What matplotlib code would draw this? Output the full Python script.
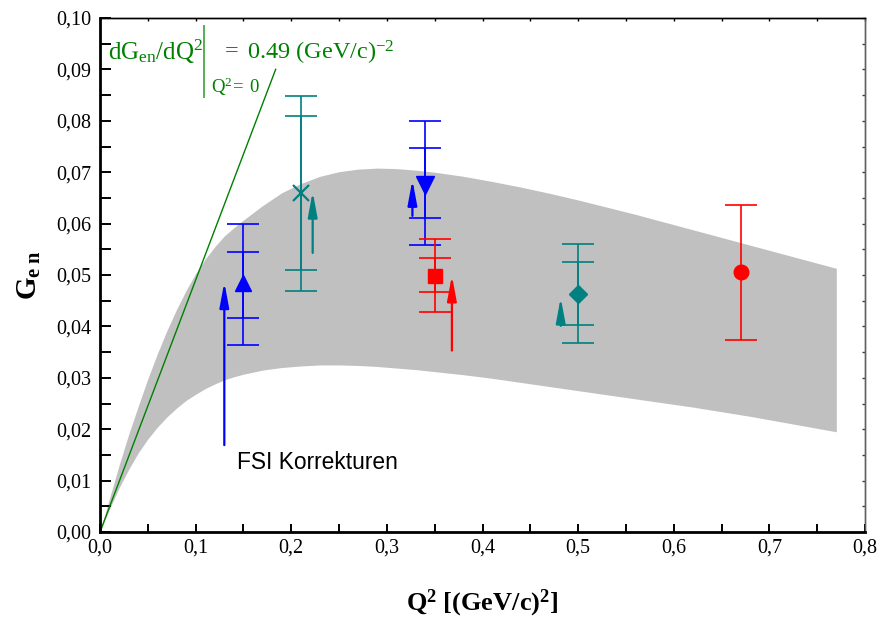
import matplotlib
matplotlib.use("Agg")
import matplotlib.pyplot as plt
import matplotlib.ticker as ticker

plt.rcParams['font.family'] = 'Liberation Serif'
plt.rcParams['mathtext.fontset'] = 'custom'
plt.rcParams['mathtext.rm'] = 'Liberation Serif'
plt.rcParams['mathtext.it'] = 'Liberation Serif:italic'
plt.rcParams['mathtext.bf'] = 'Liberation Serif:bold'

# theory band (upper / lower edge)
band_q = [0, 0.01, 0.02, 0.03, 0.04, 0.05, 0.06, 0.07, 0.08, 0.09, 0.10,
          0.11, 0.12, 0.13, 0.14, 0.15, 0.17, 0.19, 0.21, 0.23, 0.25, 0.27,
          0.29, 0.31, 0.33, 0.35, 0.38, 0.41, 0.44, 0.47, 0.50, 0.53, 0.56,
          0.59, 0.62, 0.65, 0.68, 0.71, 0.74, 0.77]
band_hi = [0, 0.0066, 0.0130, 0.0190, 0.0245, 0.0298, 0.0347, 0.0392, 0.0433,
           0.0470, 0.0503, 0.0531, 0.0555, 0.0576, 0.0592, 0.0607, 0.0635,
           0.0660, 0.0678, 0.0692, 0.0701, 0.0706, 0.0708, 0.0707, 0.0704,
           0.0700, 0.0692, 0.0682, 0.0671, 0.0659, 0.0646, 0.0632, 0.0618,
           0.0603, 0.0588, 0.0573, 0.0558, 0.0543, 0.0528, 0.0513]
band_lo = [0, 0.0045, 0.0086, 0.0122, 0.0154, 0.0181, 0.0204, 0.0224, 0.0241,
           0.0256, 0.0268, 0.0279, 0.0288, 0.0296, 0.0302, 0.0307, 0.0315,
           0.0320, 0.0323, 0.0325, 0.0325, 0.0324, 0.0322, 0.0319, 0.0316,
           0.0312, 0.0306, 0.0299, 0.0291, 0.0283, 0.0275, 0.0267, 0.0259,
           0.0251, 0.0243, 0.0234, 0.0225, 0.0215, 0.0205, 0.0195]

# slope at Q^2 = 0
slope = 0.49
slope_q = [0, 0.1837]

# measurements: Q2, Gen, inner error (lo, hi), outer error (lo, hi)
pt_q = [0.15, 0.21, 0.34, 0.35, 0.50, 0.67]
pt_g = [0.0484, 0.0660, 0.0675, 0.0499, 0.0463, 0.0506]
inner_lo = [0.0416, 0.0510, 0.0611, 0.0467, 0.0402, None]
inner_hi = [0.0545, 0.0809, 0.0747, 0.0533, 0.0525, None]
outer_lo = [0.0364, 0.0469, 0.0558, 0.0428, 0.0367, 0.0374]
outer_hi = [0.0599, 0.0848, 0.0800, 0.0570, 0.0560, 0.0637]
pt_marker = ['^', 'x', 'v', 's', 'D', 'o']
pt_ms = [12, 11, 12.5, 10, 9, 10.5]
pt_color = ['#0000ff', '#008080', '#0000ff', '#ff0000', '#008080', '#ff0000']

# FSI correction arrows: x, tail, tip
arr_q = [0.130, 0.2224, 0.3267, 0.368, 0.4818]
arr_from = [0.0169, 0.0543, 0.0615, 0.0353, 0.0401]
arr_to = [0.0486, 0.0662, 0.0685, 0.0499, 0.0456]
arr_color = ['#0000ff', '#008080', '#0000ff', '#ff0000', '#008080']

x_ticks = [0.0, 0.1, 0.2, 0.3, 0.4, 0.5, 0.6, 0.7, 0.8]
x_labels = ['0,0', '0,1', '0,2', '0,3', '0,4', '0,5', '0,6', '0,7', '0,8']
y_ticks = [0.0, 0.01, 0.02, 0.03, 0.04, 0.05, 0.06, 0.07, 0.08, 0.09, 0.10]
y_labels = ['0,00', '0,01', '0,02', '0,03', '0,04', '0,05', '0,06', '0,07',
            '0,08', '0,09', '0,10']

fig = plt.figure(figsize=(8.8, 6.25), dpi=100)
ax = fig.add_axes([0.11364, 0.1488, 0.86932, 0.8224])

# band
ax.fill_between(band_q, band_lo, band_hi, color='#c0c0c0', lw=0, zorder=1)
ax.plot([0, 0.77], [0, 0], color='#d8d8d8', lw=1, zorder=1.5)

# slope line
ax.plot(slope_q, [slope * q for q in slope_q], color='#008000', lw=1, zorder=2)

# error bars + markers
for i in range(len(pt_q)):
    c = pt_color[i]
    ax.errorbar([pt_q[i]], [pt_g[i]],
                yerr=[[pt_g[i] - outer_lo[i]], [outer_hi[i] - pt_g[i]]],
                fmt='none', ecolor=c, elinewidth=1.2, capsize=11.5,
                capthick=1.2, zorder=3)
    if inner_lo[i] is not None:
        ax.errorbar([pt_q[i]], [pt_g[i]],
                    yerr=[[pt_g[i] - inner_lo[i]], [inner_hi[i] - pt_g[i]]],
                    fmt='none', ecolor=c, elinewidth=1.2, capsize=11.5,
                    capthick=1.2, zorder=3)
    if pt_marker[i] == 'x':
        ax.plot(pt_q[i], pt_g[i], marker='x', ms=pt_ms[i], mew=1.6,
                color=c, ls='none', zorder=4)
    else:
        ax.plot(pt_q[i], pt_g[i], marker=pt_marker[i], ms=pt_ms[i],
                color=c, mec=c, ls='none', zorder=4)

# arrows
for i in range(len(arr_q)):
    ax.annotate('', xy=(arr_q[i], arr_to[i]), xytext=(arr_q[i], arr_from[i]),
                arrowprops=dict(arrowstyle='-|>,head_length=0.75,head_width=0.14',
                                color=arr_color[i], lw=1.6, shrinkA=0, shrinkB=0,
                                mutation_scale=20),
                zorder=5)

ax.text(0.1428, 0.0135, 'FSI Korrekturen', family='Liberation Sans',
        fontsize=16.4, color='black', va='center', ha='left')

# slope annotation
ax.text(0.0084, 0.0918, r'$\mathrm{dG_{en}/dQ^2}$', color='#008000',
        fontsize=18, va='baseline', ha='left')
ax.plot([0.1088, 0.1088], [0.0846, 0.0984], color='#55b055', lw=1.4, zorder=2)
ax.text(0.1265, 0.0920, r'$\mathrm{=\ 0.49\ (GeV/c)^{-2}}$', color='#008000',
        fontsize=17.5, va='baseline', ha='left')
ax.text(0.1160, 0.0854, r'$\mathrm{Q^2\!=\ 0}$', color='#008000',
        fontsize=13.5, va='baseline', ha='left')

ax.set_xlim(0, 0.8)
ax.set_ylim(0, 0.10)
ax.xaxis.set_major_locator(ticker.FixedLocator(x_ticks))
ax.xaxis.set_major_formatter(ticker.FixedFormatter(x_labels))
ax.yaxis.set_major_locator(ticker.FixedLocator(y_ticks))
ax.yaxis.set_major_formatter(ticker.FixedFormatter(y_labels))
ax.xaxis.set_minor_locator(ticker.MultipleLocator(0.05))
ax.yaxis.set_minor_locator(ticker.MultipleLocator(0.005))

ax.tick_params(axis='both', which='both', direction='in', labelsize=14.5,
               width=1.4, colors='black', top=False, right=False)
ax.tick_params(axis='y', which='both', length=8, pad=6)
ax.tick_params(axis='x', which='both', length=5.5, pad=5)

for side in ['left', 'bottom']:
    ax.spines[side].set_linewidth(2)
ax.spines['top'].set_linewidth(1)
ax.spines['right'].set_linewidth(1)
ax.spines['right'].set_color('#606060')

# tiny ticks on top and right
top = ax.secondary_xaxis('top')
top.xaxis.set_major_locator(ticker.MultipleLocator(0.05))
top.tick_params(direction='in', length=2, width=1, labeltop=False)
top.spines['top'].set_linewidth(1)
right = ax.secondary_yaxis('right')
right.yaxis.set_major_locator(ticker.MultipleLocator(0.005))
right.tick_params(direction='in', length=2, width=1, labelright=False,
                  color='#404040')
right.spines['right'].set_linewidth(1)
right.spines['right'].set_color('#606060')

ax.set_ylabel(r'$\mathbf{G_{e\ n}}$', fontsize=21)
ax.yaxis.set_label_coords(-0.074, 0.5)
ax.set_xlabel(r'$\mathbf{Q^2\ [(GeV/c)^2]}$', fontsize=19)
ax.xaxis.set_label_coords(0.5, -0.108)

fig.savefig('out.png', dpi=100)
